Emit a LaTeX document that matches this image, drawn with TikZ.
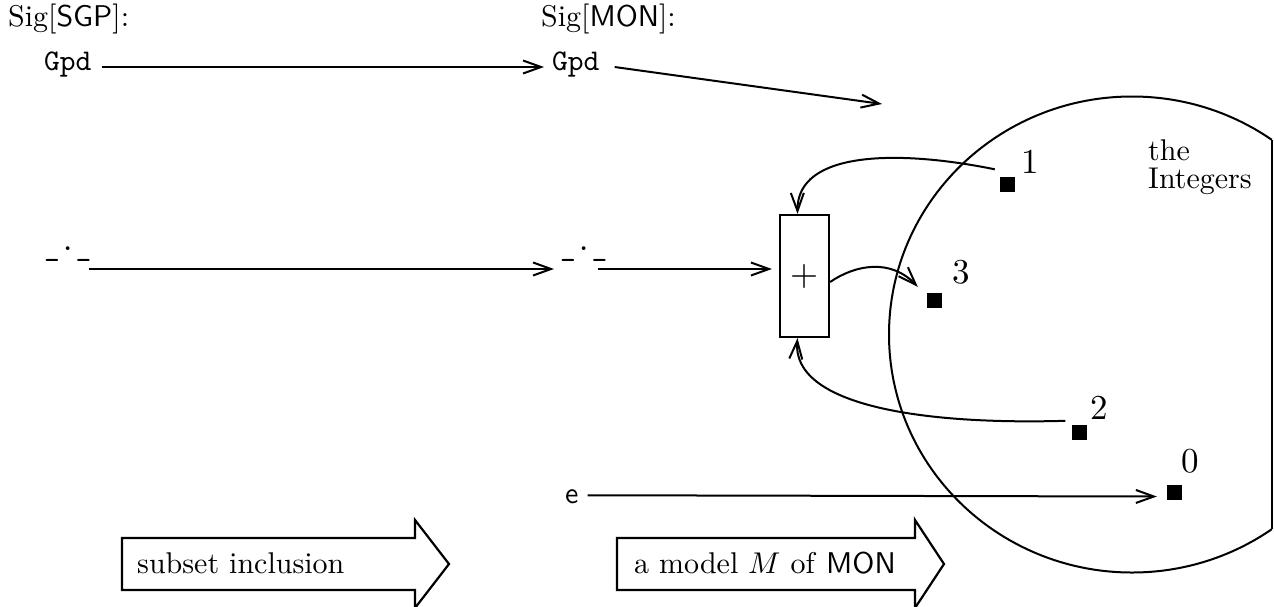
\documentclass[tikz,border=0pt]{standalone}
\usepackage{fontspec}
\usepackage{unicode-math}
\setmainfont{lmroman10-regular}[Extension=.otf, ItalicFont=lmroman10-italic, BoldFont=lmroman10-bold]
\setsansfont{lmsans10-regular}[Extension=.otf]
\setmonofont{lmmono10-regular}[Extension=.otf]
\setmathfont{Latin Modern Math}
\usetikzlibrary{arrows.meta,calc}
\begin{document}
\begin{tikzpicture}[x=1pt,y=-1pt,
  lbl/.style={inner sep=0pt, font=\fontsize{30}{28}\selectfont},
  num/.style={inner sep=0pt, font=\fontsize{35}{36}\selectfont},
  ttl/.style={inner sep=0pt, font=\fontsize{30}{28}\selectfont\ttfamily},
  conn/.style={line width=2pt, -{Straight Barb[length=18pt,width=13pt]}},
  dot/.style={fill=black, inner sep=0pt, minimum size=15pt},
  opbox/.style={draw, line width=2.2pt, minimum width=49pt, minimum height=122pt, inner sep=0pt,
    font=\fontsize{36}{36}\selectfont},
  blockarrow/.style={draw, line width=2.2pt}]
\useasboundingbox (0,0) rectangle (1274,606);

% the carrier set
\begin{scope}
  \clip (0,0) rectangle (1272,606);
  \draw[line width=2pt] (1132,334.5) ellipse [x radius=243, y radius=238];
\end{scope}
\draw[line width=1.4pt] (1272,140) -- (1272,529);
\node[lbl, anchor=north west, align=left] (ints) at (1148,139) {the\\Integers};

% signatures
\node[lbl, anchor=base west] (sigsgp) at (8,26) {Sig[\textsf{SGP}]:};
\node[lbl, anchor=base west] (sigmon) at (541,26) {Sig[\textsf{MON}]:};
\node[ttl, anchor=base west] (gpd1) at (44,70) {Gpd};
\node[ttl, anchor=base west] (gpd2) at (552,70) {Gpd};
\node[ttl, anchor=base west] (op1) at (44,256) {\_\raisebox{0.2em}{.}\_};
\node[ttl, anchor=base west] (op2) at (560,256) {\_\raisebox{0.2em}{.}\_};
\node[lbl, anchor=base west] (e) at (565,503) {\textsf{e}};
\coordinate (gpdimg) at (882,104);

% the operation box and the elements
\node[opbox] (plus) at (804.5,276) {$+$};
\node[dot] (n1) at (1007.5,184) {};
\node[dot] (n3) at (934.5,300.5) {};
\node[dot] (n2) at (1079,432.5) {};
\node[dot] (n0) at (1174.5,492.5) {};
\node[num] (l1) at (1030,162) {1};
\node[num] (l3) at (961,272) {3};
\node[num] (l2) at (1099,408) {2};
\node[num] (l0) at (1190,461) {0};

% connectors
\draw[conn] ($(gpd1.base east)+(10,-3)$) -- ($(gpd2.base west)+(-8,-3)$);
\draw[conn] ($(gpd2.base east)+(15,-3)$) -- (gpdimg);
\draw[conn] ($(op1.base east)+(-3,13)$) -- ($(op2.base west)+(-6,13)$);
\draw[conn] ($(op2.base east)+(-10,13)$) -- ($(plus.west)+(-7,-7)$);
\draw[conn] ($(n1.north west)+(-5,-7)$) .. controls (900,150) and (797,150) .. ($(plus.north)+(-7,0)$);
\draw[conn] ($(plus.east)+(0,6)$) .. controls (855,265) and (890,258) .. ($(n3.north west)+(-9,-6)$);
\draw[conn] ($(n2.north west)+(-6,-4)$) .. controls (920,425) and (792,405) .. ($(plus.south)+(-7,0)$);
\draw[conn] ($(e.east)+(9,-1)$) -- ($(n0.west)+(-10,4)$);

% block arrows
\draw[blockarrow] (122,538) -- (415,538) -- (415,520) -- (449,564) -- (415,608) -- (415,590) -- (122,590) -- cycle;
\node[lbl, anchor=base west] (incl) at (137,573) {subset inclusion};
\draw[blockarrow] (617,538) -- (915,538) -- (915,520) -- (944,564) -- (915,608) -- (915,590) -- (617,590) -- cycle;
\node[lbl, anchor=base west] (model) at (634,573) {a model $M$ of \textsf{MON}};
\end{tikzpicture}
\end{document}
